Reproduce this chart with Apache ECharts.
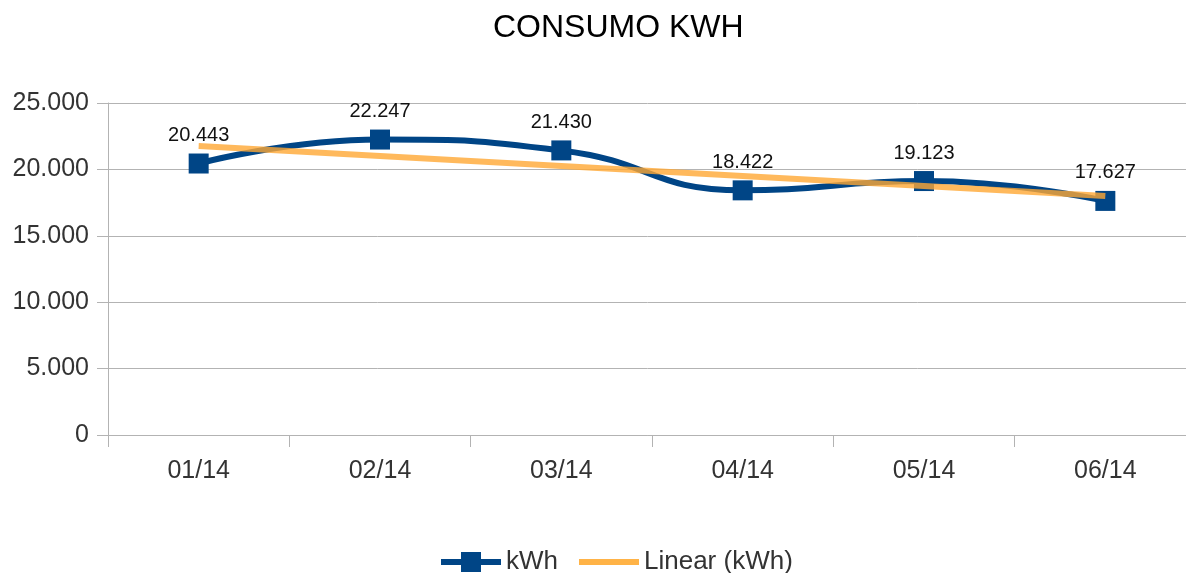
<!DOCTYPE html>
<html lang="es">
  <head>
    <meta charset="UTF-8" />
    <title>CONSUMO KWH</title>
    <script src="https://cdn.jsdelivr.net/npm/echarts@6/dist/echarts.min.js"></script>
    <style>
      body {
        margin: 0;
        padding: 0;
        background: #fff;
      }

      #main {
        width: 1186px;
        height: 573px;
      }
    </style>
  </head>

  <body>
    <div id="main"></div>
    <script>
      const months = ["01/14", "02/14", "03/14", "04/14", "05/14", "06/14"];
      const kwh = [20443, 22247, 21430, 18422, 19123, 17627];
      // trend line: only its two ends
      const trend = [21770, null, null, null, null, 17990];

      const font = "Liberation Sans";
      const fmt = (v) => String(v).replace(/\B(?=(\d{3})+(?!\d))/g, ".");

      const chart = echarts.init(document.getElementById("main"));
      const option = {
        animation: false,
        title: {
          text: "CONSUMO KWH",
          left: 488,
          top: 7,
          textStyle: {
            fontFamily: font,
            fontSize: 32,
            fontWeight: "normal",
            color: "#000",
          },
        },
        legend: {
          left: 436,
          top: 544,
          itemWidth: 60,
          itemHeight: 20,
          itemGap: 21,
          symbolKeepAspect: true,
          textStyle: { fontFamily: font, fontSize: 26, color: "#333" },
          data: [
            {
              name: "kWh",
              icon: "path://M0,7H20V0H40V7H60V13H40V20H20V13H0Z",
            },
            {
              name: "Linear (kWh)",
              icon: "path://M0,7H60V13H0Z",
            },
          ],
        },
        grid: {
          left: 108,
          top: 103,
          bottom: 138,
          width: 1088,
          outerBoundsMode: "none",
        },
        xAxis: {
          type: "category",
          data: months,
          axisLine: { show: true, lineStyle: { color: "#b3b3b3" } },
          axisTick: { show: true, length: 12, lineStyle: { color: "#b3b3b3" } },
          axisLabel: {
            margin: 24,
            fontFamily: font,
            fontSize: 25,
            color: "#333",
          },
        },
        yAxis: {
          type: "value",
          min: 0,
          max: 25000,
          interval: 5000,
          axisLine: { show: true, lineStyle: { color: "#b3b3b3" } },
          axisTick: { show: true, length: 11, lineStyle: { color: "#b3b3b3" } },
          splitLine: { lineStyle: { color: "#b3b3b3" } },
          axisLabel: {
            margin: 19,
            fontFamily: font,
            fontSize: 25,
            color: "#333",
            formatter: fmt,
          },
        },
        series: [
          {
            name: "kWh",
            type: "line",
            data: kwh,
            smooth: 0.5,
            symbol: "rect",
            symbolSize: 20,
            z: 2,
            lineStyle: { color: "#004586", width: 6 },
            itemStyle: { color: "#004586" },
            label: {
              show: true,
              position: "top",
              distance: 8,
              fontFamily: font,
              fontSize: 20,
              color: "#111",
              formatter: (p) => fmt(p.value),
            },
          },
          {
            name: "Linear (kWh)",
            type: "line",
            data: trend,
            connectNulls: true,
            symbol: "none",
            z: 3,
            lineStyle: { color: "#ffa733", width: 6, opacity: 0.8 },
            itemStyle: { color: "#ffb347" },
          },
        ],
      };
      chart.setOption(option);
    </script>
  </body>
</html>
